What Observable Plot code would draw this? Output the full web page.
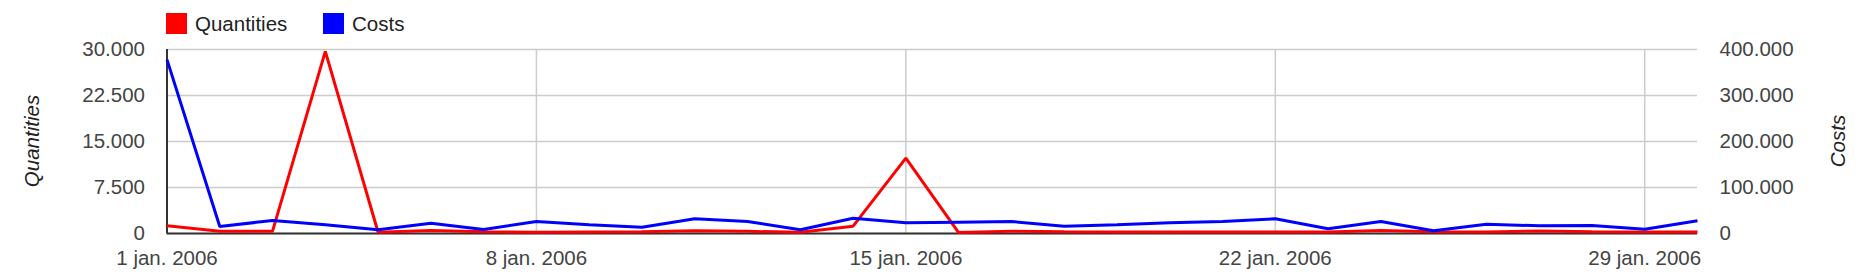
<!DOCTYPE html>
<html>
<head>
<meta charset="utf-8">
<script src="https://cdn.jsdelivr.net/npm/d3@7"></script>
<script src="https://cdn.jsdelivr.net/npm/@observablehq/plot@0.6"></script>
<style>
  html, body { margin: 0; padding: 0; background: #fff; }
  #wrap { position: relative; width: 1858px; height: 280px; font-family: "Liberation Sans", Arial, sans-serif; }
  .leg { position: absolute; top: 13px; height: 21px; display: flex; align-items: center; font-size: 20.5px; color: #222; line-height: 21px; white-space: nowrap; }
  .sw { width: 21px; height: 21px; margin-right: 8px; display: inline-block; }
  .ttl { position: absolute; font-size: 20.5px; font-style: italic; color: #222; white-space: nowrap; transform: translate(-50%, -50%) rotate(-90deg); line-height: 1; }
  svg { display: block; }
</style>
</head>
<body>
<div id="wrap"></div>
<script>
const dates = [
  "2006-01-01","2006-01-02","2006-01-03","2006-01-04","2006-01-05","2006-01-06",
  "2006-01-07","2006-01-08","2006-01-09","2006-01-10","2006-01-11","2006-01-12",
  "2006-01-13","2006-01-14","2006-01-15","2006-01-16","2006-01-17","2006-01-18",
  "2006-01-19","2006-01-20","2006-01-21","2006-01-22","2006-01-23","2006-01-24",
  "2006-01-25","2006-01-26","2006-01-27","2006-01-28","2006-01-29","2006-01-30"
];
const quantities = [1250, 380, 380, 29700, 210, 500, 300, 200, 250, 300, 440, 350, 200, 1190, 12300,
  160, 380, 280, 260, 250, 260, 250, 250, 500, 280, 250, 400, 280, 250, 250];
const costs = [378000, 15200, 28300, 19000, 8000, 22400, 8700, 26100, 18900, 13800, 31900, 26100, 8000, 33300, 23200,
  24600, 26100, 15900, 18900, 23200, 26100, 31900, 10200, 26100, 5800, 20300, 16700, 17400, 9400, 27500];
const seriesNames = ["Quantities", "Costs"];
const seriesColors = ["#ff0000", "#0000ff"];
const quantityTicks = [0, 7500, 15000, 22500, 30000];
const costTicks = [0, 100000, 200000, 300000, 400000];
const xTickDates = ["2006-01-01", "2006-01-08", "2006-01-15", "2006-01-22", "2006-01-29"];
const xTickLabels = ["1 jan. 2006", "8 jan. 2006", "15 jan. 2006", "22 jan. 2006", "29 jan. 2006"];

const ratio = 30000 / 400000;
const loc = d3.formatLocale({decimal: ",", thousands: ".", grouping: [3], currency: ["", ""]});
const fmt = loc.format(",d");

const parse = s => new Date(s + "T00:00:00Z");
const data = dates.map((d, i) => ({date: parse(d), q: quantities[i], c: costs[i], cs: costs[i] * ratio}));
const xTicks = xTickDates.map(parse);
const labelMap = new Map(xTicks.map((d, i) => [+d, xTickLabels[i]]));

const W = 1858, H = 280, mL = 166.5, mR = 161, mT = 49, mB = 47;

const chart = Plot.plot({
  width: W,
  height: H,
  marginLeft: mL,
  marginRight: mR,
  marginTop: mT,
  marginBottom: mB,
  style: {fontFamily: "'Liberation Sans', Arial, sans-serif", fontSize: "20.5px", background: "#fff", overflow: "visible"},
  x: {type: "utc", domain: [data[0].date, data[data.length - 1].date]},
  y: {domain: [0, 30000]},
  marks: [
    Plot.gridY(quantityTicks, {stroke: "#cccccc", strokeOpacity: 1, strokeWidth: 1.5}),
    Plot.gridX(xTicks.slice(1), {stroke: "#cccccc", strokeOpacity: 1, strokeWidth: 1.5}),
    Plot.ruleX([data[0].date], {stroke: "#333", strokeWidth: 2}),
    Plot.ruleY([0], {stroke: "#333", strokeWidth: 2}),
    Plot.axisY(quantityTicks, {anchor: "left", tickSize: 0, tickPadding: 22, tickFormat: fmt, fill: "#444", fontSize: 20.5, label: null}),
    Plot.axisY(costTicks.map(v => v * ratio), {anchor: "right", tickSize: 0, tickPadding: 22, tickFormat: d => fmt(Math.round(d / ratio)), fill: "#444", fontSize: 20.5, label: null}),
    Plot.axisX(xTicks, {tickSize: 0, tickPadding: 17, tickFormat: d => labelMap.get(+d), fill: "#444", fontSize: 20.5, label: null}),
    Plot.lineY(data, {x: "date", y: "q", stroke: seriesColors[0], strokeWidth: 3, strokeLinejoin: "miter", strokeLinecap: "butt"}),
    Plot.lineY(data, {x: "date", y: "cs", stroke: seriesColors[1], strokeWidth: 3, strokeLinejoin: "miter", strokeLinecap: "butt"})
  ]
});

const wrap = document.getElementById("wrap");
wrap.appendChild(chart);
const legendLefts = [166, 323];
seriesNames.forEach((name, i) => {
  const item = document.createElement("div");
  item.className = "leg";
  item.style.left = legendLefts[i] + "px";
  const sw = document.createElement("span");
  sw.className = "sw";
  sw.style.background = seriesColors[i];
  item.appendChild(sw);
  item.appendChild(document.createTextNode(name));
  wrap.appendChild(item);
});
const titleX = [32, 1837.5];
const midY = (mT + (H - mB)) / 2;
seriesNames.forEach((name, i) => {
  const t = document.createElement("div");
  t.className = "ttl";
  t.style.left = titleX[i] + "px";
  t.style.top = midY + "px";
  t.textContent = name;
  wrap.appendChild(t);
});
</script>
</body>
</html>
